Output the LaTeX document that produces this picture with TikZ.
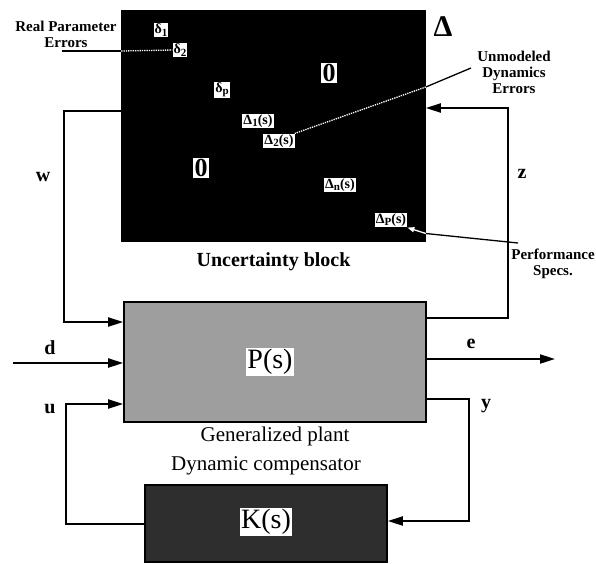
\documentclass[tikz,border=0pt]{standalone}
\usepackage{fontspec}
\setmainfont{Liberation Serif}
\usetikzlibrary{positioning}
\usetikzlibrary{arrows.meta}

\newcommand{\lowr}[1]{\raisebox{-.35ex}{\fontsize{11}{11}\selectfont #1}}

\begin{document}
\begin{tikzpicture}[x=1pt, y=-1pt,
	blk/.style={rectangle, draw=black, line width=1.6pt, inner sep=0pt},
	tag/.style={rectangle, fill=white, inner sep=1pt, font=\fontsize{14}{15}\selectfont\bfseries},
	zero/.style={rectangle, fill=white, inner sep=1.5pt, font=\fontsize{26}{26}\selectfont\bfseries},
	big/.style={rectangle, fill=white, inner sep=1.5pt, font=\fontsize{28}{28}\selectfont},
	sig/.style={line width=2pt, -{Triangle[length=15pt, width=9pt]}},
	ptr/.style={line width=1.3pt},
	lbl/.style={inner sep=0pt, font=\fontsize{20}{20}\selectfont\bfseries},
	note/.style={align=center, inner sep=0pt, font=\fontsize{15}{16}\selectfont\bfseries},
	title/.style={inner sep=0pt, font=\fontsize{21}{23}\selectfont},
	]
	\useasboundingbox (0,0) rectangle (596,563);
	
	%Nodes
	\node[blk, fill=black, minimum width=303pt, minimum height=230pt]   (delta) at (273.5,126) {};
	\node[blk, fill=black!38, minimum width=302pt, minimum height=120pt] (plant) at (275,362)   {};
	\node[blk, fill=black!82, minimum width=242pt, minimum height=77pt]  (ctrl)  at (266,523.5) {};
	
	\node[tag]  (d1) at (161,30)  {δ\lowr{1}};
	\node[tag]  (d2) at (180,50)  {δ\lowr{2}};
	\node[tag]  (dp) at (222,90)  {δ\lowr{p}};
	\node[tag]  (D1) at (258,121) {Δ\lowr{1}(s)};
	\node[tag]  (D2) at (279,141) {Δ\lowr{2}(s)};
	\node[tag]  (Dn) at (340,185) {Δ\lowr{n}(s)};
	\node[tag]  (DP) at (391,220) {Δ\lowr{P}(s)};
	\node[zero] (z1) at (329,73)  {0};
	\node[zero] (z2) at (201,168) {0};
	
	\node[font=\fontsize{30}{30}\selectfont\bfseries] (dlt) at (443,27) {Δ};
	\node[big]  (ps) at (270,362) {P(s)};
	\node[big]  (ks) at (266,522) {K(s)};
	
	\node[title, font=\fontsize{20}{22}\selectfont\bfseries] (ublk) [below = 11pt of delta] {Uncertainty block};
	\node[title] (gplant) [below = 4pt of plant]  {Generalized plant};
	\node[title] (dcomp)  [above = 9pt of ctrl]   {Dynamic compensator};
	
	\node[note] (rpe)  at (66,34)  {Real Parameter\\Errors};
	\node[note] (ude)  at (514,72) {Unmodeled\\Dynamics\\Errors};
	\node[note] (perf) at (553,264) {Performance\\Specs.};
	
	\node[lbl] (w) at (43,177)  {w};
	\node[lbl] (d) at (50,348)  {d};
	\node[lbl] (u) at (50,409)  {u};
	\node[lbl] (z) at (522,174) {z};
	\node[lbl] (e) at (471,344) {e};
	\node[lbl] (y) at (486,406) {y};
	
	\coordinate (rpel) at (62,51);
	\coordinate (udel) at (471,68);
	\coordinate (perfl) at (518,243);
	\coordinate (wy) at (0,111);
	\coordinate (wl) at (64,322);
	\coordinate (din) at (13,363);
	\coordinate (ul) at (66,404);
	\coordinate (zb) at (0,318);
	\coordinate (zt) at (508,108);
	\coordinate (eo) at (555,359);
	\coordinate (yt) at (0,399);
	\coordinate (yb) at (469,521);
	
	%Lines
	\draw[ptr] (rpel) -- (delta.west |- rpel);
	\draw[ptr, white, densely dotted] (delta.west |- rpel) -- (d2.west);
	\draw[ptr] (udel) -- (delta.east |- 0,87);
	\draw[ptr, white, densely dotted] (delta.east |- 0,87) -- (D2.north east);
	\draw[ptr] (perfl) -- (delta.east |- 0,233.5);
	\draw[ptr, white, -{Triangle[length=7pt, width=5pt]}] (delta.east |- 0,233.5) -- (DP.south east);
	
	\draw[sig] (delta.west |- wy) -| (wl) -- (plant.west |- wl);
	\draw[sig] (din) -- (plant.west |- din);
	\draw[sig] (ctrl.west) -| (ul) -- (plant.west |- ul);
	\draw[sig] (plant.east |- zb) -| (zt) -- (delta.east |- zt);
	\draw[sig] (plant.east |- eo) -- (eo);
	\draw[sig] (plant.east |- yt) -| (yb) -- (ctrl.east |- yb);
\end{tikzpicture}
\end{document}
